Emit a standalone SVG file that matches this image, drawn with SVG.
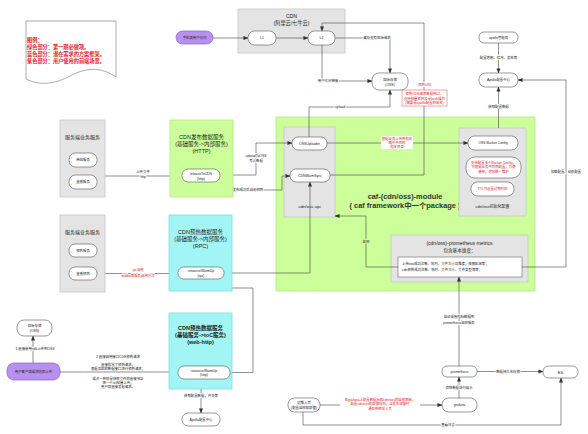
<svg xmlns="http://www.w3.org/2000/svg" width="588" height="434" viewBox="0 0 588 434">
<style>
text{font-family:"Liberation Sans","Noto Sans CJK SC",sans-serif;fill:#222;text-anchor:middle}
.s{font-size:3.4px}
.m{font-size:5.2px}
.red{fill:#e8191e}
.lbl{paint-order:stroke;stroke:#fff;stroke-width:1.6px;stroke-linejoin:round}
.gray{fill:#e4e4e4;stroke:#c6c6c6;stroke-width:0.8}
.green{fill:#ccff99;stroke:#b5e38a;stroke-width:0.8}
.cyan{fill:#a2f5f5;stroke:#7ddede;stroke-width:0.8}
.purple{fill:#b890ef;stroke:#8a62c8;stroke-width:0.7}
.node{fill:#fff;stroke:#555;stroke-width:0.6}
.e{fill:none;stroke:#444;stroke-width:0.6;marker-end:url(#a)}
.el{fill:none;stroke:#444;stroke-width:0.6}
</style>
<defs>
<marker id="a" viewBox="0 0 6 6" refX="5.5" refY="3" markerWidth="5" markerHeight="5" orient="auto" markerUnits="userSpaceOnUse">
<path d="M0,0.6 L6,3 L0,5.4 Z" fill="#333"/>
</marker>
</defs>
<rect width="588" height="434" fill="#fff"/>

<g id="legend">
<path d="M26,21 H116 V77 C100,66 85,68 70,76 C55,84 40,86 26,79 Z" fill="#fff" stroke="#888" stroke-width="0.7"/>
<text class="m red" x="27" y="42" style="text-anchor:start;font-weight:bold">图例：</text>
<text class="m red" x="27" y="49" style="text-anchor:start;font-weight:bold">绿色部分：第一期必做项。</text>
<text class="m red" x="27" y="56" style="text-anchor:start;font-weight:bold">蓝色部分：潜在需求的方案框架。</text>
<text class="m red" x="27" y="63" style="text-anchor:start;font-weight:bold">紫色部分：用户使用的前端场景。</text>
</g>

<g id="cdn-group">
<rect class="gray" x="238" y="9" width="107" height="44"/>
<text class="m" x="291.5" y="18">CDN</text>
<text class="m" x="291.5" y="25">(阿里云/七牛云)</text>
</g>
<g id="green-module">
<rect class="green" x="276" y="117" width="259" height="174"/>
<text x="405" y="199" style="font-size:7.4px;font-weight:bold;fill:#333">caf-(cdn/oss)-module</text>
<text x="405" y="208" style="font-size:7.4px;font-weight:bold;fill:#333">( caf framework中一个package )</text>
</g>
<g id="api-group">
<rect class="gray" x="284" y="127" width="51" height="90"/>
<text x="309.5" y="208" style="font-size:4.4px">cdn/oss api</text>
</g>
<g id="config-group">
<rect class="gray" x="459" y="128" width="67" height="88"/>
<text x="492.5" y="208" style="font-size:4px">cdn/oss初始化配置</text>
</g>
<g id="metrics-group">
<rect class="gray" x="391" y="235" width="137" height="47"/>
<text x="459.5" y="245" style="font-size:5px">(cdn/oss)-prometheus metrics</text>
<text x="459.5" y="251.5" style="font-size:4.6px">包含基本维度：</text>
</g>

<g id="connectors">
<path class="e" d="M213,38 H248"/>
<path class="e" d="M276,38 H308"/>
<path class="e" d="M335,38 H390 V73"/>
<text class="s lbl" x="377" y="39">缓存没有回源请求</text>
<path class="e" d="M322,45 V81 H372"/>
<text class="s lbl" x="328" y="82">用户访问链接</text>
<path class="e" d="M309,137 V107 H390 V90"/>
<text class="s lbl" x="340" y="108">upload</text>
<path class="e" d="M330,175 H424 V23 H322 V31"/>
<text class="s lbl red" x="425" y="86">预热URL</text>
<rect x="402" y="90" width="45" height="16" fill="#fff" stroke="#e8191e" stroke-width="0.4"/>
<text class="s red" x="424.5" y="95">预热CDN请求数据到L2，</text>
<text class="s red" x="424.5" y="99.5">支持批量预热及refresh操作</text>
<text class="s red" x="424.5" y="104">(需要是apollo配置的域名)</text>
<path class="e" d="M498.5,43 V73"/>
<text class="s lbl" x="498.5" y="59">配置增删、修改、发布等</text>
<path class="e" d="M498.5,128 V87"/>
<text class="s lbl" x="498.5" y="108">获取配置数据</text>
<path class="e" d="M522,267 H566 V80 H518"/>
<text class="s lbl" x="566" y="173">加载配置、动态配置</text>
<path class="e" d="M105,176 H182"/>
<text class="s lbl" x="143" y="173">上传文件</text>
<text class="s lbl" x="143" y="178">http</text>
<path class="e" d="M220,175 H256 V143 H292"/>
<text class="s lbl" x="256" y="157">uploadToOSS</text>
<text class="s lbl" x="256" y="162">写入数据</text>
<path class="e" d="M202,182 V190 H282 V176 H290"/>
<text class="s lbl" x="248" y="191">发布成功后自动预热</text>
<path class="e" d="M97,273.5 H178"/>
<text class="s lbl red" x="138" y="271">rpc调用</text>
<text class="s lbl red" x="138" y="276.5">dubbo等服务调用方式</text>
<path class="e" d="M224,273 H310 V182"/>
<path class="e" d="M230,372.5 H253 V288 H202 V279"/>
<path class="e" d="M398,267 H366 V216 H335"/>
<text class="s" x="366" y="243" style="paint-order:stroke;stroke:#ccff99;stroke-width:1.6px">监控</text>
<path class="e" d="M327,143 H468"/>
<rect x="381" y="136" width="32" height="13" fill="#fff"/>
<text class="s red" x="397" y="140">根据业务上传到指定</text>
<text class="s red" x="397" y="144">桶中不同的</text>
<text class="s red" x="397" y="148">指定目录</text>
<path class="e" d="M459,366 V277"/>
<text class="s lbl" x="459" y="318">自动采集指标数据到</text>
<text class="s lbl" x="459" y="323.5">prometheus监控服务</text>
<path class="e" d="M477,371.5 H543"/>
<text class="s lbl" x="508" y="372.5">数据持久化存储</text>
<path class="e" d="M459,398 V377"/>
<text class="s lbl" x="459" y="389">读取数据进行展示</text>
<path class="el" d="M320,405 H340"/>
<path class="e" d="M420,405 H442"/>
<text class="s red" x="380" y="400.5">在grafana上配置数据源和cdn/oss的监控面板，</text>
<text class="s red" x="380" y="405">配置cdn/oss的报警规则，当发生报警时</text>
<text class="s red" x="380" y="409.5">通知到相关人员</text>
<path class="e" d="M303,412 V425 H561 V378"/>
<text class="s lbl" x="448" y="426">查看日志</text>
<path class="e" d="M201,379 V413"/>
<text class="s lbl" x="201" y="397">获取配置数据，开关等</text>
<path class="e" d="M33,363 V336"/>
<text class="s lbl" x="35" y="350">1.直接使用sdk上传到OSS</text>
<path class="e" d="M60,372 H178"/>
<text class="s" x="118" y="358">2.直接调用接口CDN预热请求</text>
<text class="s" x="118" y="366">直接指定了预热请求，</text>
<text class="s" x="118" y="370">根据返回的数据接口进行预热请求；</text>
<text class="s" x="118" y="379.5">或许一种就是获取文件的直接地址</text>
<text class="s" x="118" y="383.5">把一个url批量上传，</text>
<text class="s" x="118" y="387.5">用户端直接发起请求。</text>
</g>

<g id="user-mobile">
<rect class="purple" x="176" y="31" width="37" height="13" rx="6.5"/>
<text class="s" x="194.5" y="38.8">手机端用户访问</text>
</g>
<g id="L1">
<rect class="node" x="248" y="31" width="28" height="14" rx="6.5"/>
<text class="s" x="262" y="39.2">L1</text>
</g>
<g id="L2">
<rect class="node" x="308" y="31" width="27" height="14" rx="6.5"/>
<text class="s" x="321.5" y="39.2">L2</text>
</g>
<g id="oss-top">
<rect class="node" x="372" y="73" width="36" height="17" rx="7"/>
<text class="s" x="390" y="80.5">回源存储</text>
<text class="s" x="390" y="85.5">(OSS)</text>
</g>
<g id="apollo-admin">
<rect class="node" x="479" y="32" width="39" height="11" rx="5"/>
<text class="s" x="498.5" y="38.7">apollo管理端</text>
</g>
<g id="apollo-center">
<rect class="node" x="479" y="73" width="39" height="14" rx="6.5"/>
<text class="s" x="498.5" y="81.2">Apollo配置中心</text>
</g>

<g id="service-group-1">
<rect class="gray" x="60" y="120" width="45" height="77"/>
<text x="82.5" y="139" style="font-size:5px">服务端业务服务</text>
<rect class="node" x="69" y="153" width="28" height="14" rx="6.5"/>
<text class="s" x="83" y="161.2">商城服务</text>
<rect class="node" x="69" y="175" width="28" height="14" rx="6.5"/>
<text class="s" x="83" y="183.2">直播服务</text>
</g>
<g id="cdn-publish">
<rect class="green" x="170" y="120" width="63" height="77"/>
<text x="201.5" y="139" style="font-size:5.5px">CDN发布数据服务</text>
<text x="201.5" y="146" style="font-size:5.5px">(基础服务-&gt;内部服务)</text>
<text x="201.5" y="153" style="font-size:5.5px">(HTTP)</text>
<rect class="node" x="182" y="169" width="38" height="13" rx="6"/>
<text class="s" x="201" y="175">releaseToCDN</text>
<text class="s" x="201" y="179.5">(http)</text>
</g>
<g id="service-group-2">
<rect class="gray" x="60" y="215" width="45" height="77"/>
<text x="82.5" y="234" style="font-size:5px">服务端业务服务</text>
<rect class="node" x="69" y="244" width="28" height="13" rx="6"/>
<text class="s" x="83" y="251.7">预热服务</text>
<rect class="node" x="69" y="267" width="28" height="13" rx="6"/>
<text class="s" x="83" y="274.7">直播预热</text>
</g>
<g id="cdn-warmup-rpc">
<rect class="cyan" x="169" y="215" width="63" height="76"/>
<text x="200.5" y="234" style="font-size:5.5px">CDN预热数据服务</text>
<text x="200.5" y="241" style="font-size:5.5px">(基础服务-&gt;内部服务)</text>
<text x="200.5" y="248" style="font-size:5.5px">(RPC)</text>
<rect class="node" x="178" y="267" width="46" height="12" rx="5.5"/>
<text class="s" x="201" y="272.3">resourceWarmUp</text>
<text class="s" x="201" y="276.8">(rpc)</text>
</g>
<g id="cdn-warmup-web">
<rect class="cyan" x="169" y="313" width="63" height="76"/>
<text x="200.5" y="330" style="font-size:5.5px;font-weight:bold">CDN预热数据服务</text>
<text x="200.5" y="337" style="font-size:5.5px;font-weight:bold">(基础服务-&gt;toC服务)</text>
<text x="200.5" y="344" style="font-size:5.5px;font-weight:bold">(web-http)</text>
<rect class="node" x="178" y="366" width="52" height="13" rx="6"/>
<text class="s" x="204" y="371.8">resourceWarmUp</text>
<text class="s" x="204" y="376.3">(http)</text>
</g>
<g id="apollo-bottom">
<rect class="node" x="182" y="413" width="38" height="13" rx="6"/>
<text class="s" x="201" y="420.7">Apollo配置中心</text>
</g>
<g id="oss-left">
<rect class="node" x="17" y="320" width="35" height="16" rx="7"/>
<text class="s" x="34.5" y="327">回源存储</text>
<text class="s" x="34.5" y="332">(OSS)</text>
</g>
<g id="user-upload">
<rect class="purple" x="7" y="363" width="53" height="17" rx="7"/>
<text class="s" x="33.5" y="372.7">用户客户端或浏览器上传</text>
</g>

<g id="oss-uploader">
<rect class="node" x="292" y="137" width="35" height="13" rx="6"/>
<text class="s" x="309.5" y="144.7">OSSUploader</text>
</g>
<g id="cdn-warm-sync">
<rect class="node" x="290" y="169" width="40" height="13" rx="6"/>
<text class="s" x="310" y="176.7">CDNWarmSync</text>
</g>
<g id="oss-bucket-config">
<rect class="node" x="468" y="136" width="50" height="14" rx="6.5"/>
<text class="s" x="493" y="144.2">OSS Bucket Config</text>
</g>
<g id="config-note">
<rect class="node" x="466" y="157" width="55" height="21" rx="9"/>
<text class="s red" x="493.5" y="163.5">支持配置多个Bucket Config，</text>
<text class="s red" x="493.5" y="168">可根据业务不同而配置，方便</text>
<text class="s red" x="493.5" y="172.5">使用，增加统一维护</text>
</g>
<g id="ttl">
<rect class="node" x="471" y="182" width="43" height="14" rx="6.5"/>
<text class="s red" x="492.5" y="190.2">TTL可设置过期时间</text>
</g>
<g id="metrics-detail">
<rect x="398" y="257" width="124" height="20" fill="#fff" stroke="#666" stroke-width="0.6"/>
<text class="s" x="402" y="265" style="text-anchor:start">上传oss成功次数、耗时、文件大小及维度，按桶区域等；</text>
<text class="s" x="402" y="270.5" style="text-anchor:start">cdn预热成功次数、耗时、文件大小、文件类型等等；</text>
</g>
<g id="prometheus">
<rect class="node" x="442" y="366" width="35" height="11" rx="5"/>
<text class="s" x="459.5" y="372.8">prometheus</text>
</g>
<g id="es">
<rect class="node" x="543" y="366" width="35" height="12" rx="5.5"/>
<text x="560.5" y="373.6" style="font-size:4.2px">ES</text>
</g>
<g id="grafana">
<rect class="node" x="442" y="398" width="35" height="14" rx="6.5"/>
<text class="s" x="459.5" y="406.2">grafana</text>
</g>
<g id="ops">
<rect class="node" x="288" y="398" width="32" height="14" rx="6.5"/>
<text class="s" x="304" y="404.2">运维人员</text>
<text class="s" x="304" y="409">(配置监控和报警)</text>
</g>
</svg>
